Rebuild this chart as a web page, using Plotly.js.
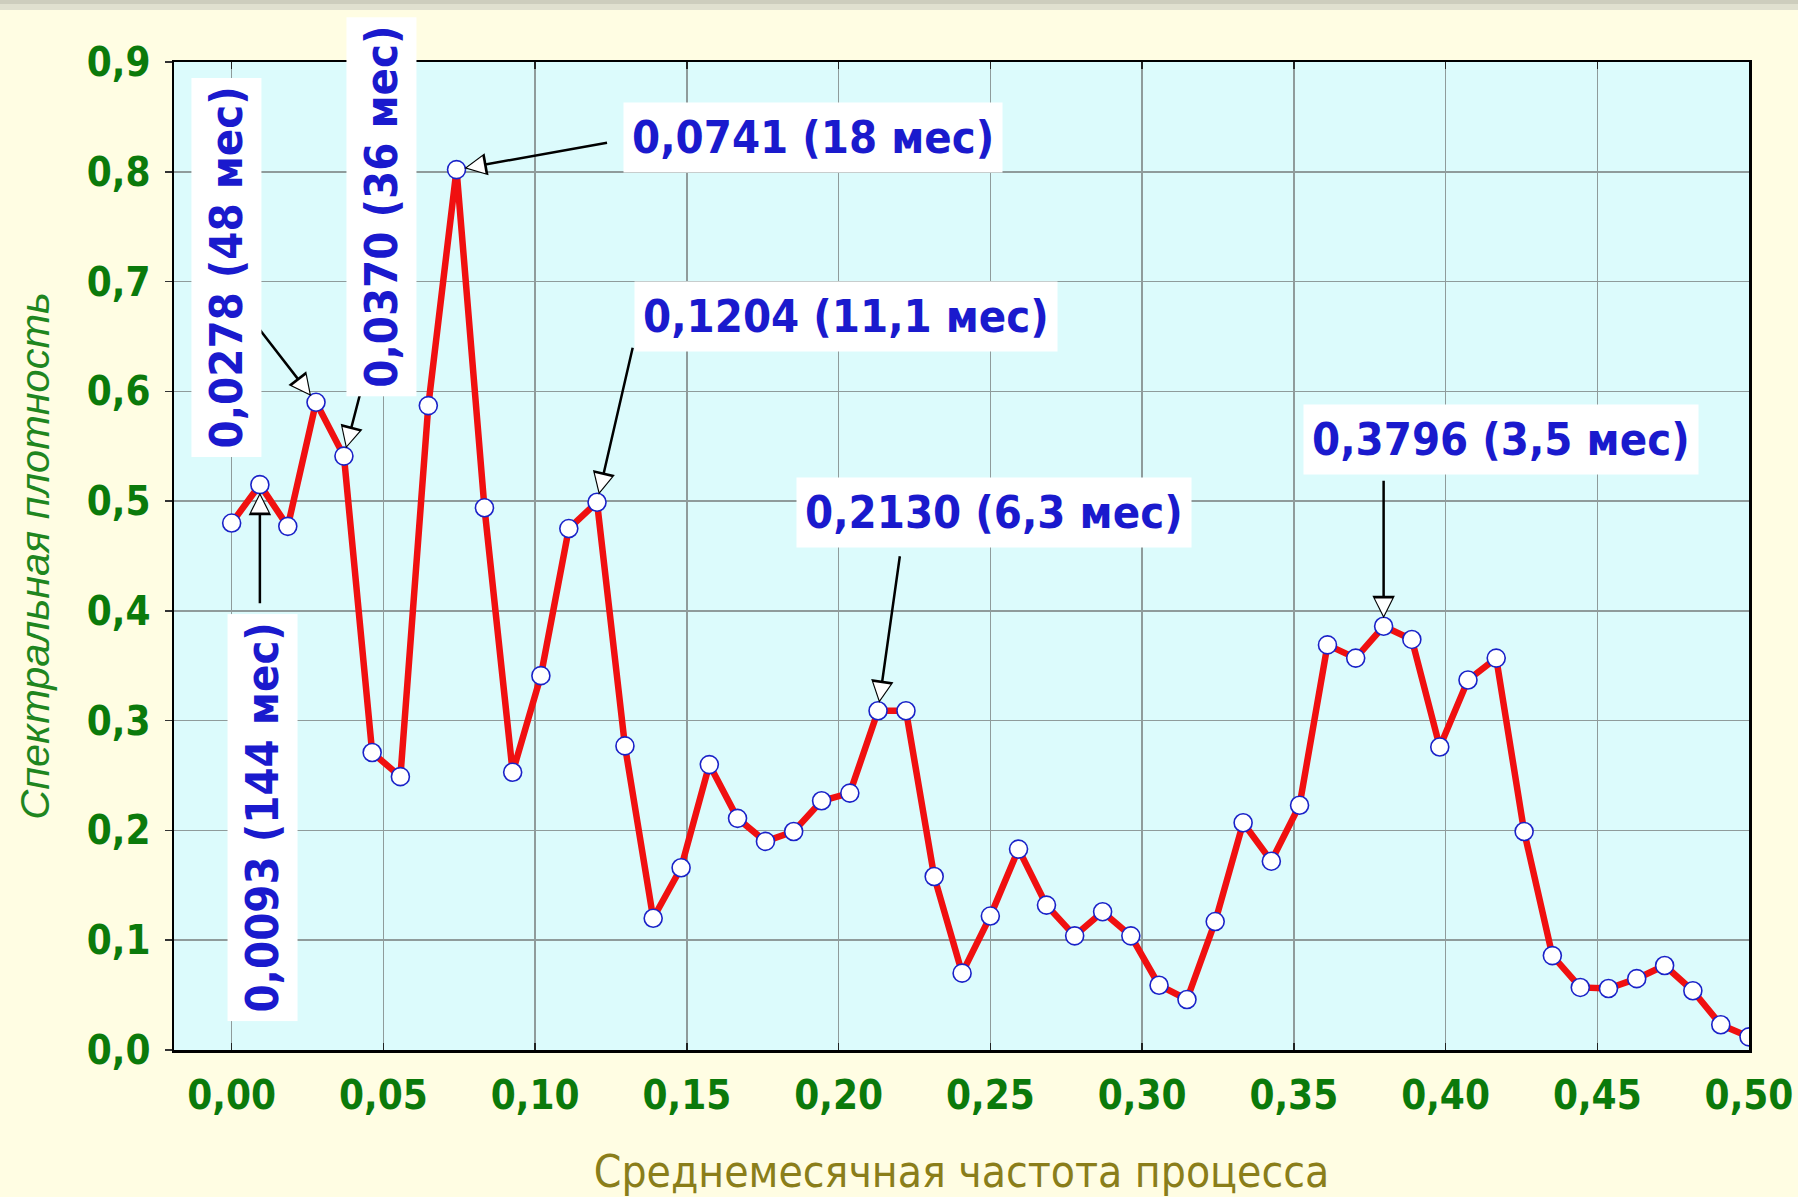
<!DOCTYPE html>
<html>
<head>
<meta charset="utf-8">
<script src="https://cdn.plot.ly/plotly-3.0.1.min.js"></script>
<style>
  html, body { margin: 0; padding: 0; background: #fffde3; }
  #chart { width: 1798px; height: 1197px; }
</style>
</head>
<body>
<div id="chart"></div>
<script>
// ---- data ----
const freq = [0.0000, 0.0093, 0.0185, 0.0278, 0.0370, 0.0463, 0.0556, 0.0648, 0.0741, 0.0833,
              0.0926, 0.1019, 0.1111, 0.1204, 0.1296, 0.1389, 0.1481, 0.1574, 0.1667, 0.1759,
              0.1852, 0.1944, 0.2037, 0.2130, 0.2222, 0.2315, 0.2407, 0.2500, 0.2593, 0.2685,
              0.2778, 0.2870, 0.2963, 0.3056, 0.3148, 0.3241, 0.3333, 0.3426, 0.3519, 0.3611,
              0.3704, 0.3796, 0.3889, 0.3981, 0.4074, 0.4167, 0.4259, 0.4352, 0.4444, 0.4537,
              0.4630, 0.4722, 0.4815, 0.4907, 0.5000];
const density = [0.480, 0.515, 0.477, 0.590, 0.541, 0.271, 0.249, 0.587, 0.802, 0.494,
                 0.253, 0.341, 0.475, 0.499, 0.277, 0.120, 0.166, 0.260, 0.211, 0.190,
                 0.199, 0.227, 0.234, 0.309, 0.309, 0.158, 0.070, 0.122, 0.183, 0.132,
                 0.104, 0.126, 0.104, 0.059, 0.046, 0.117, 0.207, 0.172, 0.223, 0.369,
                 0.357, 0.386, 0.374, 0.276, 0.337, 0.357, 0.199, 0.086, 0.057, 0.056,
                 0.065, 0.077, 0.054, 0.023, 0.012];

const xTickVals   = [0.00, 0.05, 0.10, 0.15, 0.20, 0.25, 0.30, 0.35, 0.40, 0.45, 0.50];
const xTickLabels = ["0,00", "0,05", "0,10", "0,15", "0,20", "0,25", "0,30", "0,35", "0,40", "0,45", "0,50"];
const yTickVals   = [0.0, 0.1, 0.2, 0.3, 0.4, 0.5, 0.6, 0.7, 0.8, 0.9];
const yTickLabels = ["0,0", "0,1", "0,2", "0,3", "0,4", "0,5", "0,6", "0,7", "0,8", "0,9"];

const peakIndex  = [1, 3, 4, 8, 13, 23, 41];
const peakLabels = ["0,0093 (144 мес)", "0,0278 (48 мес)", "0,0370 (36 мес)", "0,0741 (18 мес)",
                    "0,1204 (11,1 мес)", "0,2130 (6,3 мес)", "0,3796 (3,5 мес)"];

const xTitle = "Среднемесячная частота процесса";
const yTitle = "Спектральная плотность";

// ---- label placement (styling / positions only) ----
const labelPos = [
  {x: 0.0101, y: 0.212, angle: -90, ax: 0,   ay: 120},
  {x: -0.0018, y: 0.713, angle: -90, ax: -62, ay: -80},
  {x: 0.0495, y: 0.768, angle: -90, ax: 27,  ay: -104},
  {x: 0.1915, y: 0.831, angle: 0,   ax: 152, ay: -27},
  {x: 0.2023, y: 0.668, angle: 0,   ax: 36,  ay: -156},
  {x: 0.2512, y: 0.490, angle: 0,   ax: 22,  ay: -156},
  {x: 0.4184, y: 0.556, angle: 0,   ax: 0,   ay: -147}
];

const condFont = "'DejaVu Sans Condensed', 'DejaVu Sans', sans-serif";

// black arrow with a white inner head, so the head looks hollow
const headW = 2.5, headSize = 1.8, headStandoff = 8;
const S = headW * headSize;                       // outer head scale
const inr = 1.545 * S, border = 1.6, f = (inr - border) / inr;
const S2 = f * S;                                  // inner head scale
const innerTip = headStandoff + 2.455 * S - f * 3.455 * S;
const innerStandoff = innerTip + S2;
const innerTail = headStandoff + 4 * S - 3;

const annotations = [];
peakIndex.forEach((k, i) => {
  const p = labelPos[i];
  annotations.push({
    x: freq[k], y: density[k], xref: 'x', yref: 'y',
    text: '', showarrow: true, ax: p.ax, ay: p.ay,
    arrowcolor: '#000000', arrowwidth: headW, arrowhead: 2, arrowsize: headSize, standoff: headStandoff
  });
  const len = Math.hypot(p.ax, p.ay);
  annotations.push({
    x: freq[k], y: density[k], xref: 'x', yref: 'y',
    text: '', showarrow: true, ax: p.ax / len * innerTail, ay: p.ay / len * innerTail,
    arrowcolor: '#ffffff', arrowwidth: 1, arrowhead: 2, arrowsize: S2, standoff: innerStandoff
  });
});
peakIndex.forEach((k, i) => {
  const p = labelPos[i];
  annotations.push({
    x: p.x, y: p.y, xref: 'x', yref: 'y',
    text: peakLabels[i], showarrow: false, textangle: p.angle,
    xanchor: 'center', yanchor: 'middle',
    bgcolor: '#ffffff', borderpad: 8,
    font: {family: condFont, size: 45, color: '#1a1acd', weight: 'bold'}
  });
});

const trace = {
  x: freq, y: density, type: 'scatter', mode: 'lines+markers',
  line: {color: '#f01010', width: 6.5},
  marker: {symbol: 'circle', size: 18, color: '#ffffff', line: {color: '#1a22c8', width: 1.6}},
  hoverinfo: 'x+y', showlegend: false
};

const layout = {
  width: 1798, height: 1197,
  margin: {l: 174, r: 49, t: 62, b: 147},
  paper_bgcolor: '#fffde3',
  plot_bgcolor: '#dcfbfc',
  showlegend: false,
  xaxis: {
    range: [-0.019, 0.5], automargin: false,
    tickmode: 'array', tickvals: xTickVals, ticktext: xTickLabels,
    showgrid: true, gridcolor: '#8f9b9b', gridwidth: 1.5, zeroline: false,
    showline: true, linecolor: '#000000', linewidth: 2.5, mirror: 'ticks',
    ticks: 'inside', ticklen: 7, tickwidth: 1.5, tickcolor: '#222222',
    ticklabelstandoff: 8,
    tickfont: {family: condFont, size: 40, color: '#0b7a0b', weight: 'bold'},
    title: {text: xTitle, standoff: 40,
            font: {family: condFont, size: 44, color: '#8a7e1a'}}
  },
  yaxis: {
    range: [0, 0.9], automargin: false,
    tickmode: 'array', tickvals: yTickVals, ticktext: yTickLabels,
    showgrid: true, gridcolor: '#8f9b9b', gridwidth: 1.5, zeroline: false,
    showline: true, linecolor: '#000000', linewidth: 2.5, mirror: true,
    ticks: 'outside', ticklen: 7, tickwidth: 1.5, tickcolor: '#333333',
    ticklabelstandoff: 6,
    tickfont: {family: condFont, size: 40, color: '#0b7a0b', weight: 'bold'},
    title: {text: yTitle, standoff: 24,
            font: {family: "'Liberation Sans', Arial, sans-serif", size: 41.5, color: '#1f861f', style: 'italic'}}
  },
  annotations: annotations,
  shapes: [
    {type: 'rect', xref: 'paper', yref: 'paper', x0: -0.12, x1: 1.04, y0: 1.0526, y1: 1.0640,
     fillcolor: '#e0e0cf', line: {width: 0}},
    {type: 'rect', xref: 'paper', yref: 'paper', x0: -0.12, x1: 1.04, y0: 1.0588, y1: 1.0640,
     fillcolor: '#cdcdbd', line: {width: 0}}
  ]
};

Plotly.newPlot('chart', [trace], layout, {staticPlot: true, displayModeBar: false});
</script>
</body>
</html>
